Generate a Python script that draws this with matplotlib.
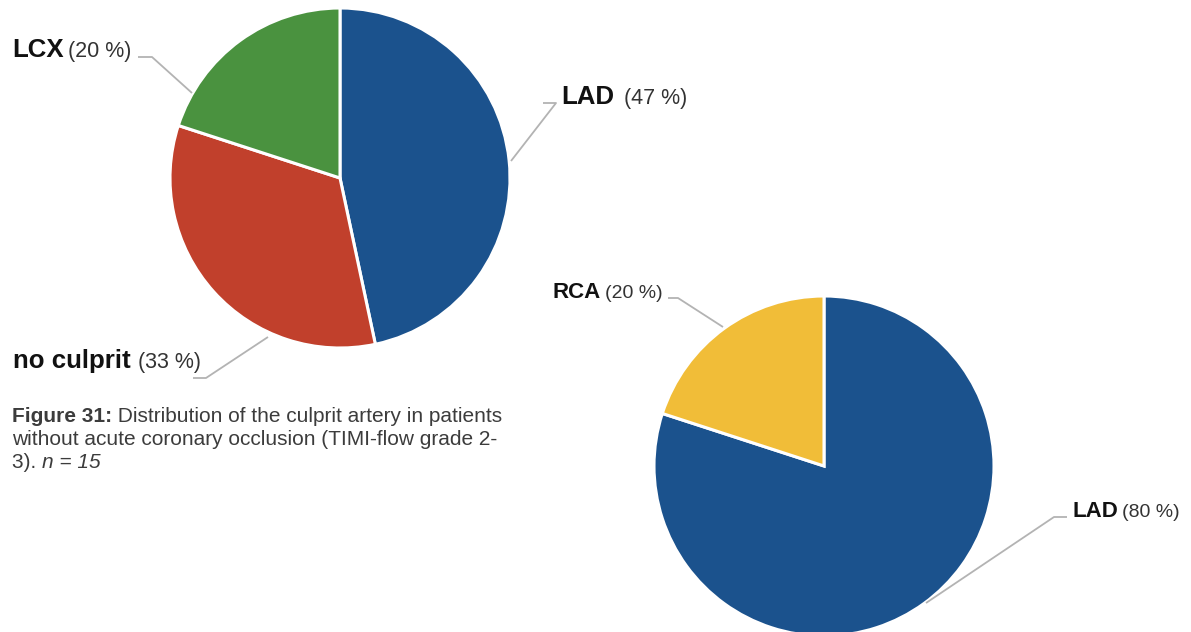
import matplotlib
matplotlib.use("Agg")
import matplotlib.pyplot as plt

W, H = 1191, 632
plt.rcParams['font.family'] = ['Liberation Sans', 'DejaVu Sans']

# Figure 31: culprit artery, no acute coronary occlusion (n = 15)
occl_cats = ["LAD", "no culprit", "LCX"]
occl_counts = [7, 5, 3]
occl_colors = ["#1b528d", "#c1402c", "#4a923f"]

# Second chart: culprit artery distribution
second_cats = ["LAD", "RCA"]
second_pct = [80, 20]
second_colors = ["#1b528d", "#f1bd38"]

caption_bold = "Figure 31:"
caption_lines = [" Distribution of the culprit artery in patients",
                 "without acute coronary occlusion (TIMI-flow grade 2-",
                 "3). "]
caption_italic = "n = 15"

fig = plt.figure(figsize=(W / 100, H / 100), dpi=100)
ax = fig.add_axes([0, 0, 1, 1])

wedge_style = dict(edgecolor="white", linewidth=2.2)

ax.pie(occl_counts, colors=occl_colors, startangle=90, counterclock=False,
       center=(340, H - 178), radius=170, wedgeprops=wedge_style)
ax.pie(second_pct, colors=second_colors, startangle=90, counterclock=False,
       center=(824, H - 466), radius=170, wedgeprops=wedge_style)

ax.set_xlim(0, W)
ax.set_ylim(0, H)
ax.set_aspect("auto")
ax.axis("off")

LINE = "#b3b3b3"


def leader(points):
    xs = [p[0] for p in points]
    ys = [H - p[1] for p in points]
    ax.plot(xs, ys, color=LINE, lw=1.3, solid_capstyle="butt")


def label(x, yb, name, pct, big=True, gap=4):
    bs, ns = (18.6, 15.5) if big else (16, 14)
    t = ax.text(x, H - yb, name, fontsize=bs, fontweight="bold",
                va="baseline", ha="left", color="#111111")
    ax.annotate(f"({pct} %)", xy=(1, H - yb), xycoords=(t, "data"),
                xytext=(gap, 0), textcoords="offset points",
                va="baseline", ha="left", fontsize=ns, color="#333333")


total = sum(occl_counts)
occl_pct = [round(100 * c / total) for c in occl_counts]

# left chart labels
label(561, 104, occl_cats[0], occl_pct[0], gap=7.5)
leader([(511, 161), (556, 103), (543, 103)])
label(13, 368, occl_cats[1], occl_pct[1], gap=5.5)
leader([(268, 337), (206, 378), (193, 378)])
label(12, 57, occl_cats[2], occl_pct[2], gap=3)
leader([(138, 57), (152, 57), (192, 93)])

# right chart labels
label(1072, 517, second_cats[0], second_pct[0], big=False, gap=3)
leader([(1067, 517), (1054, 517), (926, 603)])
label(553, 298, second_cats[1], second_pct[1], big=False, gap=3)
leader([(668, 298), (678, 298), (723, 327)])

# caption
CAP = "#3c3c3c"
cs = 15
t0 = ax.text(12, H - 422, caption_bold, fontsize=cs, fontweight="bold",
             va="baseline", ha="left", color=CAP)
ax.annotate(caption_lines[0], xy=(1, H - 422), xycoords=(t0, "data"),
            xytext=(0, 0), textcoords="offset points",
            va="baseline", ha="left", fontsize=cs, color=CAP)
ax.text(12, H - 445, caption_lines[1], fontsize=cs, va="baseline",
        ha="left", color=CAP)
t2 = ax.text(12, H - 468, caption_lines[2], fontsize=cs, va="baseline",
             ha="left", color=CAP)
ax.annotate(caption_italic, xy=(1, H - 468), xycoords=(t2, "data"),
            xytext=(0, 0), textcoords="offset points",
            va="baseline", ha="left", fontsize=cs, style="italic", color=CAP)

fig.savefig("out.png", dpi=100)
